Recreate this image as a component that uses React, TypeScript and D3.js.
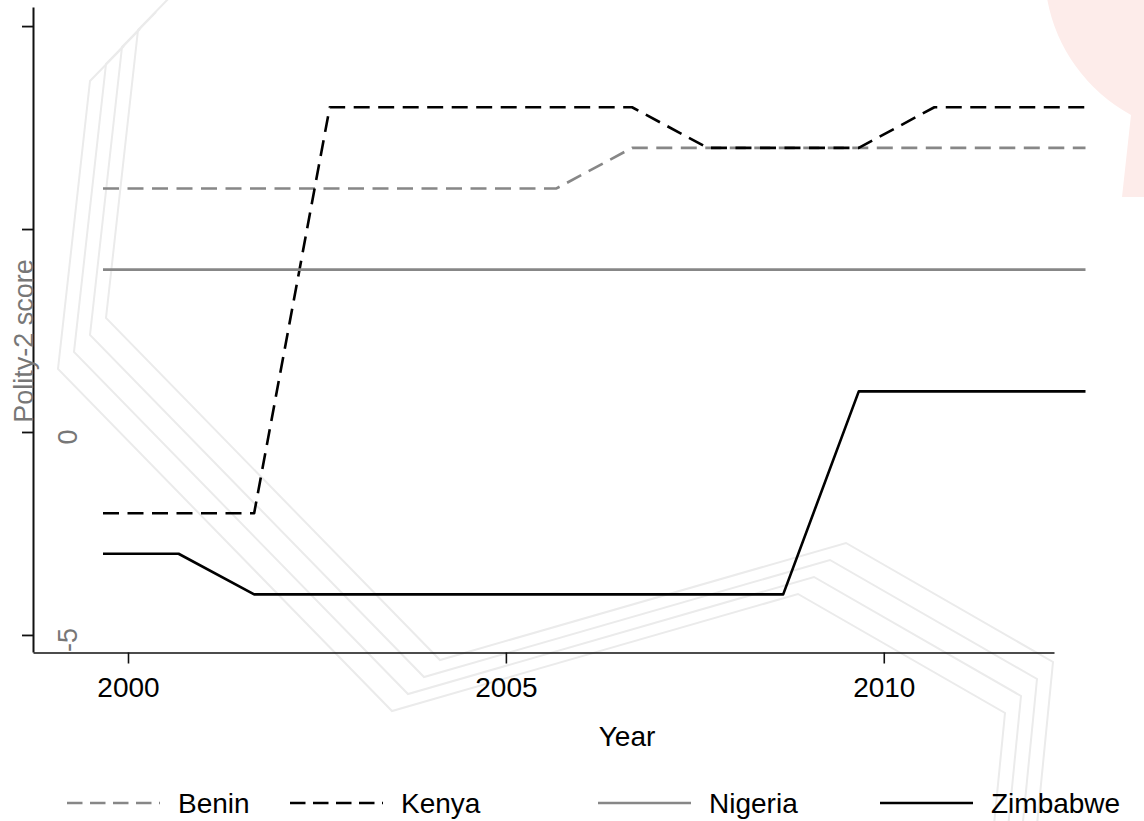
import React, { useEffect, useRef } from "react";
import * as d3 from "d3";

// ---- data ----
const years = [2000, 2001, 2002, 2003, 2004, 2005, 2006, 2007, 2008, 2009, 2010, 2011, 2012, 2013];
const benin = [6, 6, 6, 6, 6, 6, 6, 7, 7, 7, 7, 7, 7, 7];
const kenya = [-2, -2, -2, 8, 8, 8, 8, 8, 7, 7, 7, 8, 8, 8];
const nigeria = [4, 4, 4, 4, 4, 4, 4, 4, 4, 4, 4, 4, 4, 4];
const zimbabwe = [-3, -3, -4, -4, -4, -4, -4, -4, -4, -4, 1, 1, 1, 1];
const seriesNames = ["Benin", "Kenya", "Nigeria", "Zimbabwe"];
const xTicks = [2000, 2005, 2010];
const yTicks = [-5, 0, 5, 10];
const yTickLabels = ["-5", "0", "", ""];

const W = 1144;
const H = 821;
const FONT = "'Liberation Sans', Arial, Helvetica, sans-serif";

export default function App() {
  const ref = useRef<SVGSVGElement | null>(null);

  useEffect(() => {
    const svg = d3.select(ref.current);
    svg.selectAll("*").remove();

    const seriesValues = [benin, kenya, nigeria, zimbabwe];
    const styles = [
      { color: "#878787", dash: "16 8.5" },
      { color: "#000000", dash: "16 8.5" },
      { color: "#878787", dash: null },
      { color: "#000000", dash: null },
    ];

    const xScale = d3.scaleLinear().domain([2000, 2013]).range([103, 1085.5]);
    const y = d3.scaleLinear().domain([-5.42, 10.47]).range([652, 7]);
    // axis in the reference is shifted 25px to the right of the data
    const xAxisScale = d3
      .scaleLinear()
      .domain([xScale.invert(8), xScale.invert(1029)])
      .range([33, 1054]);

    // ---- background watermark decoration ----
    const deco = svg.append("g");
    deco
      .append("path")
      .attr("d", "M1047,-2 A165.7,165.7 0 0,0 1131,115 L1122,197 L1150,197 L1150,-2 Z")
      .attr("fill", "#fdecea");
    const base: [number, number][] = [
      [172, -5],
      [138, 30],
      [106, 318],
      [440, 660],
      [846, 543],
      [1053, 662],
      [1036, 835],
    ];
    for (let k = 0; k < 4; k++) {
      deco
        .append("path")
        .attr("d", d3.line()(base.map(([a, b]) => [a - 16 * k, b + 17 * k] as [number, number])))
        .attr("fill", "none")
        .attr("stroke", "#ebebeb")
        .attr("stroke-width", 2);
    }

    // ---- axes ----
    const gy = svg
      .append("g")
      .attr("transform", "translate(33,0)")
      .call(d3.axisLeft(y).tickValues(yTicks).tickSize(11).tickSizeOuter(0).tickFormat(() => ""));
    gy.select(".domain").attr("stroke", "#111").attr("stroke-width", 2);
    gy.selectAll(".tick line").attr("stroke", "#111").attr("stroke-width", 1.8);

    yTicks.forEach((t, i) => {
      if (!yTickLabels[i]) return;
      svg
        .append("text")
        .attr("transform", `translate(77,${y(t) + 5}) rotate(-90)`)
        .attr("text-anchor", "middle")
        .attr("font-family", FONT)
        .attr("font-size", 27)
        .attr("fill", "#777")
        .text(yTickLabels[i]);
    });

    const gx = svg
      .append("g")
      .attr("transform", "translate(0,652.5)")
      .call(
        d3
          .axisBottom(xAxisScale)
          .tickValues(xTicks)
          .tickSize(11)
          .tickSizeOuter(0)
          .tickFormat((d) => String(d))
      );
    gx.select(".domain").attr("stroke", "#111").attr("stroke-width", 1.6);
    gx.selectAll(".tick line").attr("stroke", "#111").attr("stroke-width", 1.6);
    gx.selectAll(".tick text")
      .attr("y", 44.5)
      .attr("dy", 0)
      .attr("font-family", FONT)
      .attr("font-size", 28)
      .attr("fill", "#000");

    svg
      .append("text")
      .attr("transform", "translate(33,341) rotate(-90)")
      .attr("text-anchor", "middle")
      .attr("font-family", FONT)
      .attr("font-size", 27)
      .attr("fill", "#777")
      .text("Polity-2 score");

    svg
      .append("text")
      .attr("x", 627)
      .attr("y", 746)
      .attr("text-anchor", "middle")
      .attr("font-family", FONT)
      .attr("font-size", 28)
      .attr("fill", "#000")
      .text("Year");

    // ---- lines ----
    const line = d3
      .line<number>()
      .x((_, i) => xScale(years[i]))
      .y((v) => y(v));
    seriesValues.forEach((vals, i) => {
      const p = svg
        .append("path")
        .attr("d", line(vals))
        .attr("fill", "none")
        .attr("stroke", styles[i].color)
        .attr("stroke-width", 2.6)
        .attr("stroke-linejoin", "round");
      if (styles[i].dash) p.attr("stroke-dasharray", styles[i].dash);
    });

    // ---- legend ----
    const legendX = [67, 290, 598, 880];
    seriesNames.forEach((name, i) => {
      const lx = legendX[i];
      const l = svg
        .append("line")
        .attr("x1", lx)
        .attr("x2", lx + 93)
        .attr("y1", 803)
        .attr("y2", 803)
        .attr("stroke", styles[i].color)
        .attr("stroke-width", 2.6);
      if (styles[i].dash) l.attr("stroke-dasharray", "15.5 7.5");
      svg
        .append("text")
        .attr("x", lx + 111)
        .attr("y", 813)
        .attr("font-family", FONT)
        .attr("font-size", 28)
        .attr("fill", "#000")
        .text(name);
    });
  }, []);

  return (
    <svg
      ref={ref}
      width={W}
      height={H}
      style={{ position: "absolute", left: 0, top: 0, background: "#fff" }}
    />
  );
}
